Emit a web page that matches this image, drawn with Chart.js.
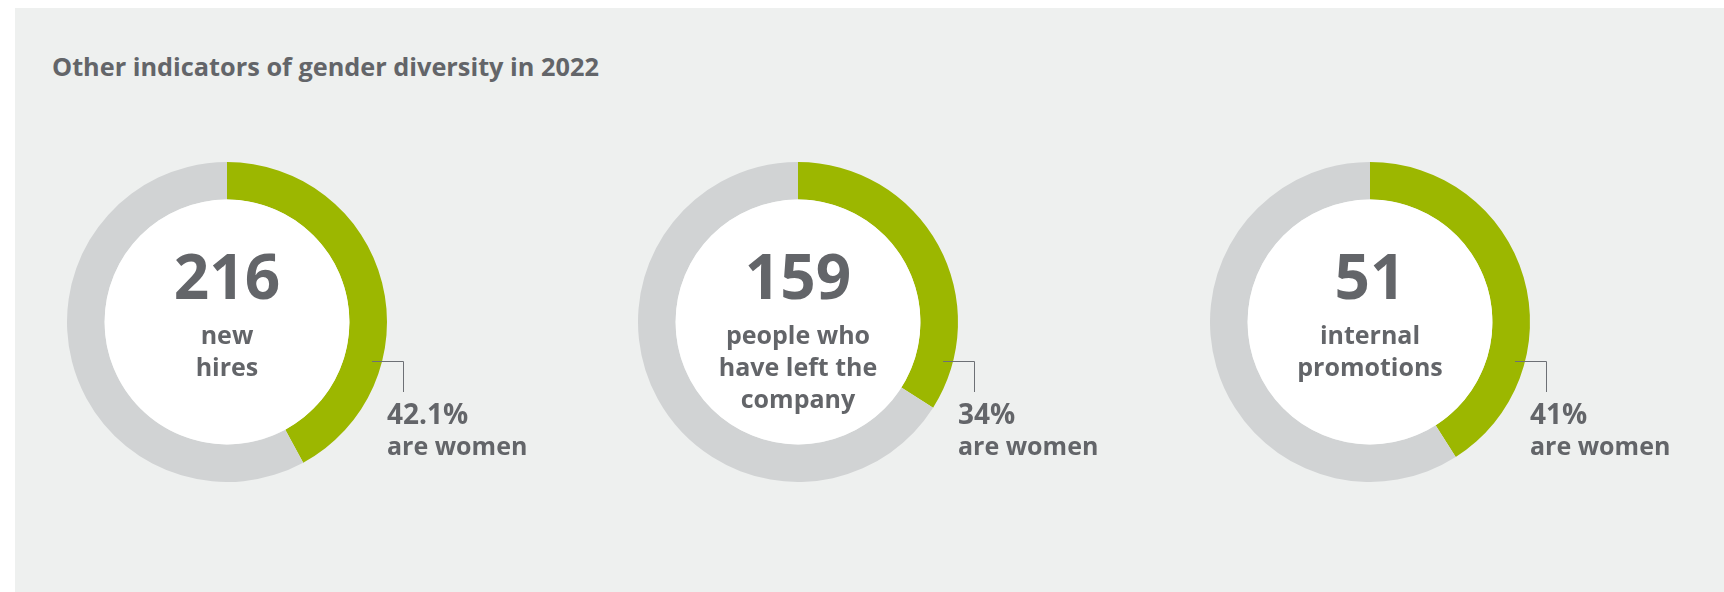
<!DOCTYPE html>
<html>
<head>
<meta charset="utf-8">
<title>Other indicators of gender diversity in 2022</title>
<script src="https://cdn.jsdelivr.net/npm/chart.js@4/dist/chart.umd.min.js"></script>
<style>
  html, body { margin: 0; padding: 0; background: #ffffff; }
  body { width: 1724px; height: 592px; position: relative; overflow: hidden;
         font-family: "Open Sans", "Noto Sans", sans-serif; color: #636569; }
  #panel { position: absolute; left: 15px; top: 8px; right: 0; bottom: 0; background: #eef0ef; }
  .txt { position: absolute; white-space: nowrap; line-height: 1; }
  .ring { position: absolute; }
</style>
</head>
<body>
<div id="panel"></div>
<div id="stage"></div>

<script>
(function () {
  'use strict';

  /*--------- 1. DATA --------*/

  const chartTitle = 'Other indicators of gender diversity in 2022';
  const totals = [216, 159, 51];
  const metricLines = [
    ['new', 'hires'],
    ['people who', 'have left the', 'company'],
    ['internal', 'promotions']
  ];
  const womenShare = [42.1, 34, 41];          // % of each total that are women
  const shareLabels = ['42.1%', '34%', '41%'];
  const shareCaption = 'are women';
  const sliceLabels = ['Women', 'Others'];


  /*--------- 2. LAYOUT / STYLE --------*/

  const GREEN = '#9cb700';
  const GREY = '#d1d3d4';

  const CENTER_X = [227, 798, 1370];   // ring centres on the page
  const CENTER_Y = 322;
  const R_OUT = 160;
  const LEADER_ROOM = 60;              // extra canvas width right of the ring

  const stage = document.getElementById('stage');

  // place a line of text so that its baseline sits at y
  // (Open Sans: ascent 1.069em, descent 0.293em)
  function placeText(str, x, baseline, size, weight, align) {
    const el = document.createElement('div');
    el.className = 'txt';
    el.textContent = str;
    el.style.fontSize = size + 'px';
    el.style.fontWeight = weight;
    el.style.lineHeight = size + 'px';
    el.style.top = (baseline - (size / 2 + 0.388 * size)) + 'px';
    if (align === 'center') {
      el.style.left = (x - 300) + 'px';
      el.style.width = '600px';
      el.style.textAlign = 'center';
    } else {
      el.style.left = x + 'px';
    }
    stage.appendChild(el);
    return el;
  }

  placeText(chartTitle, 52, 76, 25.3, 700, 'left');


  /*--------- 3. PLUGIN — white hub + leader line --------*/

  const hubPlugin = {
    id: 'hub',
    afterDatasetsDraw: function (chart) {
      const arc = chart.getDatasetMeta(0).data[0];
      const ctx = chart.ctx;
      ctx.save();
      ctx.fillStyle = '#ffffff';
      ctx.beginPath();
      ctx.arc(arc.x, arc.y, arc.innerRadius, 0, Math.PI * 2);
      ctx.fill();

      // leader from the green slice to the label
      ctx.strokeStyle = '#6d7075';
      ctx.lineWidth = 1;
      ctx.beginPath();
      ctx.moveTo(arc.x + 145, arc.y + 39.5);
      ctx.lineTo(arc.x + 176.5, arc.y + 39.5);
      ctx.lineTo(arc.x + 176.5, arc.y + 70);
      ctx.stroke();
      ctx.restore();
    }
  };


  /*--------- 4. CHART.JS — one doughnut per indicator --------*/

  totals.forEach(function (total, i) {
    const cx = CENTER_X[i];

    const canvas = document.createElement('canvas');
    canvas.className = 'ring';
    canvas.width = R_OUT * 2 + LEADER_ROOM;
    canvas.height = R_OUT * 2;
    canvas.style.width = canvas.width + 'px';
    canvas.style.height = canvas.height + 'px';
    canvas.style.left = (cx - R_OUT) + 'px';
    canvas.style.top = (CENTER_Y - R_OUT) + 'px';
    stage.appendChild(canvas);

    new Chart(canvas, {
      type: 'doughnut',
      data: {
        labels: sliceLabels,
        datasets: [{
          data: [womenShare[i], 100 - womenShare[i]],
          backgroundColor: [GREEN, GREY],
          borderWidth: 0,
          hoverOffset: 0
        }]
      },
      options: {
        responsive: false,
        animation: false,
        cutout: '76.5%',
        layout: { padding: { right: LEADER_ROOM } },
        events: [],
        plugins: {
          legend: { display: false },
          tooltip: { enabled: false }
        }
      },
      plugins: [hubPlugin]
    });

    // centre text
    placeText(String(total), cx, 299, 62, 700, 'center');
    metricLines[i].forEach(function (line, j) {
      placeText(line, cx, 344 + j * 32, 25, 700, 'center');
    });

    // side label
    placeText(shareLabels[i], cx + 160, 424, 28, 700, 'left');
    placeText(shareCaption, cx + 160, 455, 25, 700, 'left');
  });

})();
</script>
</body>
</html>
